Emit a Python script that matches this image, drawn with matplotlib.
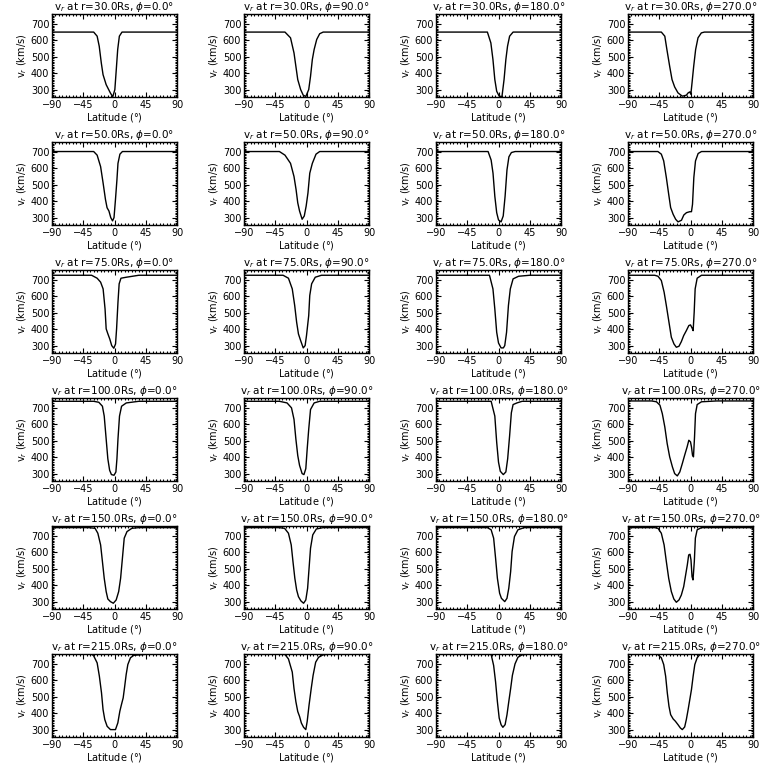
import numpy as np
import matplotlib
matplotlib.use('Agg')
import matplotlib.pyplot as plt
from matplotlib.ticker import MultipleLocator

# radial speed profiles vs latitude
radii = [30.0, 50.0, 75.0, 100.0, 150.0, 215.0]
phis = [0.0, 90.0, 180.0, 270.0]

# r = 30 Rs
lat_30_0 = [-90, -30, -25, -22, -19, -16.5, -12, -6, -2.5, 0.5, 2.9, 4.6, 7, 10.8, 90]
v_30_0 = [650, 650, 625, 564, 462, 391, 330, 280, 256, 300, 442, 544, 625, 650, 650]
lat_30_90 = [-90, -31, -23, -18, -15.3, -12.6, -8.4, -4.7, -1, 3.2, 5.8, 8.4, 11, 14.7, 19, 24, 90]
v_30_90 = [650, 650, 615, 523, 442, 361, 300, 266, 258, 300, 381, 483, 544, 605, 640, 650, 650]
lat_30_180 = [-90, -16, -11, -8, -5.3, -2.6, 1, 5, 8, 10.6, 13, 16, 21, 90]
v_30_180 = [650, 650, 584, 483, 361, 290, 260, 258, 361, 483, 564, 625, 650, 650]
lat_30_270 = [-90, -42, -37, -34, -30, -26.6, -22.8, -18, -11.8, -6, -3.4, -1, 0.5, 2.2, 4.6, 7.4, 10.8, 15.6, 20, 90]
v_30_270 = [650, 650, 625, 544, 442, 361, 316, 280, 260, 266, 280, 286, 272, 341, 442, 544, 615, 645, 650, 650]

# r = 50 Rs
lat_50_0 = [-90, -30, -25, -20, -16.4, -13, -10.7, -8, -5.4, -2.8, -0.7, 1.4, 3.5, 5, 7.8, 11.4, 90]
v_50_0 = [702, 702, 680, 610, 510, 410, 360, 340, 300, 280, 300, 410, 530, 630, 686, 702, 702]
lat_50_90 = [-90, -39, -31, -23, -18, -15, -12.6, -10, -6.3, -3.2, -0.5, 2.1, 4.7, 8.4, 13.7, 19, 90]
v_50_90 = [702, 702, 680, 630, 550, 470, 390, 340, 290, 310, 370, 450, 570, 630, 686, 702, 702]
lat_50_180 = [-90, -15, -10.6, -7.9, -5.3, -2.6, 0, 3.7, 6.8, 9.5, 12.2, 15, 18.6, 24, 90]
v_50_180 = [702, 702, 650, 570, 430, 330, 286, 274, 310, 430, 590, 670, 696, 702, 702]
lat_50_270 = [-90, -47, -42, -38.6, -34.8, -31.4, -28.6, -25, -21.4, -18, -13, -9.6, -5.8, -1, 1.4, 2.9, 4.8, 7.2, 11, 15.8, 90]
v_50_270 = [702, 702, 686, 645, 544, 442, 361, 320, 290, 274, 284, 316, 330, 336, 336, 381, 544, 645, 690, 702, 702]

# r = 75 Rs
lat_75_0 = [-90, -33, -25, -20, -16.4, -13.6, -12, -9.5, -6.8, -4, -1, 1.5, 3, 5, 6.7, 9.3, 17, 35, 90]
v_75_0 = [728, 728, 710, 686, 645, 523, 402, 371, 340, 300, 284, 310, 402, 564, 676, 710, 716, 728, 728]
lat_75_90 = [-90, -33.7, -26, -20.5, -17, -14.2, -11.6, -8.4, -4.7, -2, 0, 3.2, 4.7, 7.4, 12.6, 21.5, 90]
v_75_90 = [728, 728, 710, 645, 544, 442, 371, 330, 286, 300, 361, 483, 605, 676, 716, 728, 728]
lat_75_180 = [-90, -13, -8, -5.3, -2.6, 0, 3.7, 7, 9, 11.6, 14.3, 17, 21, 29, 45, 90]
v_75_180 = [728, 728, 645, 523, 381, 316, 286, 286, 300, 381, 544, 645, 706, 722, 728, 728]
lat_75_270 = [-90, -51.6, -46.8, -42, -38, -34.8, -31, -27.6, -23.8, -20.4, -16.6, -13.2, -9.8, -6, -2.4, 0, 2.4, 3.8, 5.3, 6.7, 9.6, 15.8, 90]
v_75_270 = [728, 728, 722, 696, 625, 544, 442, 351, 310, 290, 296, 324, 361, 391, 422, 426, 406, 391, 503, 645, 710, 728, 728]

# r = 100 Rs
lat_100_0 = [-90, -30, -22.6, -17.4, -14.8, -12, -9.6, -7, -4.4, -0.7, 2, 3.5, 5, 7.2, 10.2, 17, 35, 90]
v_100_0 = [740, 740, 734, 710, 650, 510, 390, 320, 294, 290, 310, 390, 510, 650, 710, 730, 740, 740]
lat_100_90 = [-90, -39, -28, -21.6, -18, -15.3, -12.6, -10, -6.3, -3.7, -1, 1, 3.2, 5.8, 11, 19, 90]
v_100_90 = [740, 740, 730, 700, 630, 510, 410, 350, 300, 294, 330, 450, 570, 690, 730, 740, 740]
lat_100_180 = [-90, -10.6, -5.3, -2.6, 0, 2.6, 6.9, 10.6, 13.2, 16, 18.5, 21, 26.5, 34, 90]
v_100_180 = [740, 740, 650, 490, 370, 314, 294, 310, 390, 530, 670, 720, 730, 740, 740]
lat_100_270 = [-90, -56, -49, -44, -40.6, -37, -33.6, -30, -26, -22.8, -19, -15.4, -11.8, -8.4, -4.9, -2.4, 0, 1.4, 2.9, 4.3, 5.8, 7.2, 9.6, 15.8, 37.4, 90]
v_100_270 = [742, 742, 737, 716, 665, 584, 483, 402, 340, 300, 286, 310, 361, 412, 462, 503, 493, 462, 412, 402, 523, 665, 720, 737, 742, 742]

# r = 150 Rs
lat_150_0 = [-90, -37, -28, -24, -20, -17.4, -14.8, -12, -9.6, -5.9, -1.7, 2.4, 6, 8.8, 11.4, 14, 18, 25, 35, 90]
v_150_0 = [750, 750, 746, 716, 645, 544, 442, 361, 316, 300, 290, 310, 361, 442, 564, 686, 726, 746, 750, 750]
lat_150_90 = [-90, -39.5, -31.6, -26, -22, -19.5, -16.8, -14.2, -11.6, -8, -4.2, -1, 1.6, 3.7, 5.8, 9, 14.2, 24, 90]
v_150_90 = [750, 750, 746, 716, 645, 544, 442, 371, 330, 304, 290, 310, 381, 503, 625, 706, 742, 750, 750]
lat_150_180 = [-90, -16, -10.6, -7, -4.2, -1.6, 1.6, 4.2, 9, 12.2, 14.8, 17.5, 19.6, 23, 28, 37, 90]
v_150_180 = [750, 750, 737, 686, 564, 442, 351, 320, 300, 320, 381, 483, 605, 696, 737, 750, 750]
lat_150_270 = [-90, -51.6, -46.8, -42, -38, -34.8, -31.4, -27.6, -24, -20.4, -16.6, -13.2, -9.8, -7, -4.6, -2.6, -0.7, 0.7, 2.2, 3.6, 5.5, 7, 9.6, 15.8, 90]
v_150_270 = [750, 750, 746, 716, 645, 544, 442, 361, 316, 296, 310, 340, 391, 462, 523, 584, 588, 554, 452, 432, 544, 686, 737, 750, 750]

# r = 215 Rs
lat_215_0 = [-90, -45, -32, -29.8, -25, -21.8, -18.7, -16.5, -14, -10.6, -5.8, 1.4, 4.8, 7.7, 10, 12.5, 14.4, 16.8, 19.2, 23, 27.8, 42, 50, 90]
v_215_0 = [760, 760, 757, 747, 706, 625, 523, 422, 361, 320, 300, 300, 341, 412, 452, 493, 554, 635, 696, 737, 752, 757, 760, 760]
lat_215_90 = [-90, -40, -31, -26, -20.5, -18, -15.3, -12.6, -10, -7.4, -4.2, -1, 1, 3.7, 6.8, 9.5, 13.2, 17.4, 24, 35, 90]
v_215_90 = [760, 760, 757, 730, 650, 550, 470, 410, 380, 340, 314, 300, 350, 450, 550, 630, 710, 740, 755, 760, 760]
lat_215_180 = [-90, -20, -10.6, -7, -4.2, -1.6, 1, 3.7, 6.3, 9.5, 12.2, 14.8, 17.5, 20, 23.8, 28, 34, 45, 90]
v_215_180 = [760, 760, 757, 690, 590, 470, 370, 330, 314, 330, 390, 470, 550, 630, 700, 740, 755, 760, 760]
lat_215_270 = [-90, -55, -47, -42, -38.6, -35.8, -33.4, -31, -28.6, -25, -21.8, -18, -14.6, -11.8, -8.4, -6, -3.4, -1, 1.4, 3.8, 6.2, 9.6, 13.4, 25, 90]
v_215_270 = [760, 760, 757, 737, 696, 625, 523, 442, 391, 365, 351, 330, 310, 300, 316, 361, 422, 483, 544, 625, 696, 737, 757, 760, 760]

profiles = {
    (30.0, 0.0): (lat_30_0, v_30_0), (30.0, 90.0): (lat_30_90, v_30_90),
    (30.0, 180.0): (lat_30_180, v_30_180), (30.0, 270.0): (lat_30_270, v_30_270),
    (50.0, 0.0): (lat_50_0, v_50_0), (50.0, 90.0): (lat_50_90, v_50_90),
    (50.0, 180.0): (lat_50_180, v_50_180), (50.0, 270.0): (lat_50_270, v_50_270),
    (75.0, 0.0): (lat_75_0, v_75_0), (75.0, 90.0): (lat_75_90, v_75_90),
    (75.0, 180.0): (lat_75_180, v_75_180), (75.0, 270.0): (lat_75_270, v_75_270),
    (100.0, 0.0): (lat_100_0, v_100_0), (100.0, 90.0): (lat_100_90, v_100_90),
    (100.0, 180.0): (lat_100_180, v_100_180), (100.0, 270.0): (lat_100_270, v_100_270),
    (150.0, 0.0): (lat_150_0, v_150_0), (150.0, 90.0): (lat_150_90, v_150_90),
    (150.0, 180.0): (lat_150_180, v_150_180), (150.0, 270.0): (lat_150_270, v_150_270),
    (215.0, 0.0): (lat_215_0, v_215_0), (215.0, 90.0): (lat_215_90, v_215_90),
    (215.0, 180.0): (lat_215_180, v_215_180), (215.0, 270.0): (lat_215_270, v_215_270),
}

W = 768.0
fig = plt.figure(figsize=(7.68, 7.68), dpi=100)

for i, r in enumerate(radii):
    for j, phi in enumerate(phis):
        left = (52 + 192 * j) / W
        bottom = 1 - (97 + 128 * i) / W
        ax = fig.add_axes([left, bottom, 125 / W, 83 / W])
        lat, v = profiles[(r, phi)]
        ax.plot(lat, v, color='black', lw=1.0)
        ax.set_xlim(-90, 90)
        ax.set_ylim(255, 760)
        ax.set_xticks([-90, -45, 0, 45, 90])
        ax.set_yticks([300, 400, 500, 600, 700])
        ax.yaxis.set_minor_locator(MultipleLocator(10))
        ax.xaxis.set_minor_locator(MultipleLocator(5))
        ax.tick_params(which='both', direction='in', top=True, right=True,
                       labelsize=7, pad=2, width=0.8)
        ax.tick_params(which='major', length=3.5)
        ax.tick_params(which='minor', length=1.5)
        for s in ax.spines.values():
            s.set_linewidth(1.0)
        ax.set_title(r'v$_r$ at r=%.1fRs, $\phi$=%.1f$\degree$' % (r, phi),
                     fontsize=7.5, pad=2)
        ax.set_ylabel(r'v$_r$ (km/s)', fontsize=7, labelpad=1)
        ax.set_xlabel(r'Latitude ($\degree$)', fontsize=7, labelpad=1)

fig.savefig('out.png', dpi=100, facecolor='white')
